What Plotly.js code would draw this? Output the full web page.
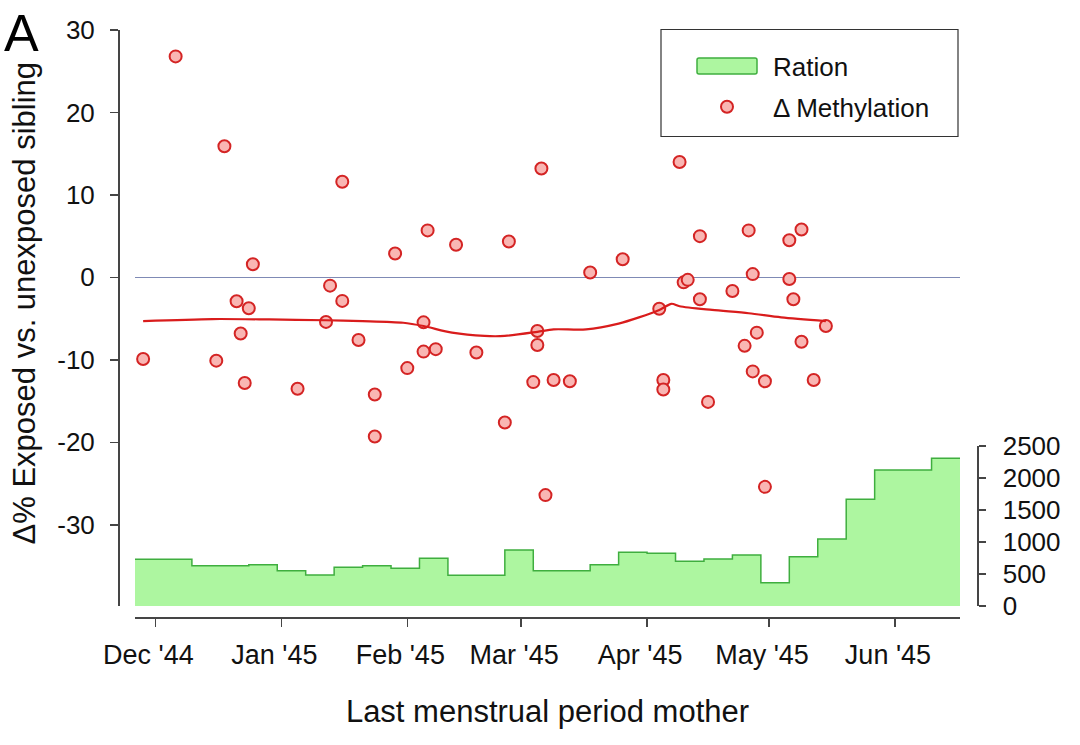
<!DOCTYPE html>
<html><head><meta charset="utf-8">
<script src="https://cdn.plot.ly/plotly-3.0.1.min.js"></script>
<style>html,body{margin:0;padding:0;background:#fff}#chart{width:1080px;height:745px}</style>
</head><body><div id="chart"></div>
<script>
// ---- data ----
const methDates = ['1944-11-28','1944-12-06','1944-12-16','1944-12-18','1944-12-21','1944-12-22','1944-12-23','1944-12-24','1944-12-25',
  '1945-01-05','1945-01-12','1945-01-13','1945-01-16','1945-01-16','1945-01-20','1945-01-24','1945-01-24','1945-01-29',
  '1945-02-01','1945-02-05','1945-02-05','1945-02-06','1945-02-08','1945-02-13','1945-02-18','1945-02-25','1945-02-26',
  '1945-03-04','1945-03-05','1945-03-05','1945-03-06','1945-03-07','1945-03-09','1945-03-13','1945-03-18','1945-03-26',
  '1945-04-04','1945-04-05','1945-04-05','1945-04-09','1945-04-10','1945-04-11','1945-04-14','1945-04-14','1945-04-16',
  '1945-04-22','1945-04-25','1945-04-26','1945-04-27','1945-04-27','1945-04-28','1945-04-30','1945-04-30',
  '1945-05-06','1945-05-06','1945-05-07','1945-05-09','1945-05-09','1945-05-12','1945-05-15'];
const methValues = [-9.9,26.8,-10.1,15.9,-2.9,-6.8,-12.8,-3.75,1.6,
  -13.5,-5.4,-1.0,-2.85,11.6,-7.6,-14.2,-19.3,2.9,
  -11.0,-5.45,-9.0,5.7,-8.7,3.95,-9.1,-17.6,4.35,
  -12.7,-6.5,-8.2,13.2,-26.4,-12.45,-12.6,0.6,2.2,
  -3.8,-12.45,-13.6,14.0,-0.6,-0.3,-2.65,5.0,-15.1,
  -1.65,-8.3,5.7,0.4,-11.4,-6.7,-12.6,-25.4,
  4.5,-0.2,-2.65,5.8,-7.8,-12.45,-5.9];

const trendDates = ['1944-11-28','1944-12-15','1944-12-29','1945-01-12','1945-01-21','1945-01-31','1945-02-05','1945-02-12',
  '1945-02-20','1945-02-25','1945-03-05','1945-03-09','1945-03-17','1945-03-25','1945-03-30','1945-04-04','1945-04-07',
  '1945-04-09','1945-04-17','1945-04-26','1945-05-04','1945-05-15'];
const trendValues = [-5.3,-5.05,-5.1,-5.2,-5.3,-5.5,-5.9,-6.7,-7.1,-7.1,-6.6,-6.3,-6.3,-5.6,-4.85,-3.95,-3.2,-3.5,-3.95,-4.35,-4.85,-5.3];

const rationWeeks = ['1944-11-26','1944-12-03','1944-12-10','1944-12-17','1944-12-24','1944-12-31','1945-01-07','1945-01-14',
  '1945-01-21','1945-01-28','1945-02-04','1945-02-11','1945-02-18','1945-02-25','1945-03-04','1945-03-11','1945-03-18',
  '1945-03-25','1945-04-01','1945-04-08','1945-04-15','1945-04-22','1945-04-29','1945-05-06','1945-05-13','1945-05-20',
  '1945-05-27','1945-06-03','1945-06-10','1945-06-17'];
const rationKcal = [730,730,630,630,645,552,484,605,630,590,745,480,480,875,552,552,645,839,823,700,734,797,365,771,1047,1667,2125,2125,2308,2308];

const monthTicks = ['1944-12-01','1945-01-01','1945-02-01','1945-03-01','1945-04-01','1945-05-01','1945-06-01'];
const monthLabels = ["Dec '44","Jan '45","Feb '45","Mar '45","Apr '45","May '45","Jun '45"];
const leftTicks = [-30,-20,-10,0,10,20,30];
const leftLabels = ['-30','-20','-10','0','10','20','30'];
const rightTicks = [0,500,1000,1500,2000,2500];
const rightLabels = ['0','500','1000','1500','2000','2500'];

// ---- layout geometry ----
const FONT = 'Liberation Sans, Arial, sans-serif';
const ML = 118, MR = 103, MT = 30, MB = 128;
const PW = 1080 - ML - MR, PH = 745 - MT - MB;
const px2x = p => (p - ML) / PW;
const px2y = p => (745 - MB - p) / PH;
const AX = '#454545';

const traces = [
  {x: rationWeeks, y: rationKcal, xaxis: 'x', yaxis: 'y2', type: 'scatter', mode: 'lines',
   line: {shape: 'hv', color: '#3fae3f', width: 1.5}, fill: 'tozeroy', fillcolor: '#adf6a0',
   name: 'Ration', legendgroup: 'a', hoverinfo: 'skip'},
  {x: methDates, y: methValues, type: 'scatter', mode: 'markers', name: '\u0394 Methylation', legendgroup: 'b',
   marker: {size: 12, color: '#f9b6b3', line: {color: '#d42424', width: 2}}},
  {x: trendDates, y: trendValues, type: 'scatter', mode: 'lines', showlegend: false,
   line: {color: '#d91c1c', width: 2.2, shape: 'spline', smoothing: 0.8}}
];

const layout = {
  width: 1080, height: 745,
  margin: {l: ML, r: MR, t: MT, b: MB, pad: 0},
  paper_bgcolor: '#ffffff', plot_bgcolor: 'rgba(0,0,0,0)',
  font: {family: FONT, size: 26, color: '#111'},
  showlegend: true,
  legend: {x: px2x(681), xanchor: 'left', y: px2y(42.5), yanchor: 'top', bgcolor: 'rgba(0,0,0,0)',
    borderwidth: 0, font: {family: FONT, size: 26, color: '#111'}, itemwidth: 82,
    traceorder: 'grouped', tracegroupgap: 4},
  xaxis: {type: 'date', range: ['1944-11-26', '1945-06-17'], domain: [px2x(135), px2x(960)],
    anchor: 'free', position: 0, showline: true, linecolor: AX, linewidth: 1.5,
    ticks: 'outside', ticklen: 8, tickwidth: 1.5, tickcolor: AX,
    tickvals: monthTicks, ticktext: monthLabels, tickfont: {size: 27}, ticklabelstandoff: 5, ticklabelshift: -7,
    showgrid: false, zeroline: false,
    title: {text: 'Last menstrual period mother', font: {size: 31}, standoff: 31}},
  yaxis: {range: [-39.85, 30], domain: [px2y(606), 1], anchor: 'free', position: 0,
    showline: true, linecolor: AX, linewidth: 1.5, ticks: 'outside', ticklen: 8, tickwidth: 1.5, tickcolor: AX,
    tickvals: leftTicks, ticktext: leftLabels, tickfont: {size: 26}, ticklabelstandoff: 10,
    showgrid: false, zeroline: true, zerolinecolor: '#7f8ab5', zerolinewidth: 1.5},
  yaxis2: {range: [0, 2500], domain: [px2y(606), px2y(446)], anchor: 'free', position: 1, side: 'right',
    showline: true, linecolor: AX, linewidth: 1.5, ticks: 'outside', ticklen: 7, tickwidth: 1.5, tickcolor: AX,
    tickvals: rightTicks, ticktext: rightLabels, tickfont: {size: 26}, ticklabelstandoff: 12,
    showgrid: false, zeroline: false},
  shapes: [
    {type: 'rect', xref: 'paper', yref: 'paper', x0: px2x(661), x1: px2x(958), y0: px2y(29.5), y1: px2y(136.5),
     line: {color: '#333', width: 1.2}, fillcolor: 'rgba(0,0,0,0)'}
  ],
  annotations: [
    {text: 'A', xref: 'paper', yref: 'paper', x: px2x(21.5), y: px2y(33), xanchor: 'center', yanchor: 'middle',
     showarrow: false, font: {family: FONT, size: 52, color: '#000'}},
    {text: '\u0394% Exposed vs. unexposed sibling', xref: 'paper', yref: 'paper', x: px2x(24), y: px2y(303.5),
     xanchor: 'center', yanchor: 'middle', textangle: -90, showarrow: false, font: {family: FONT, size: 31, color: '#111'}}
  ]
};

Plotly.newPlot('chart', traces, layout, {displayModeBar: false, staticPlot: true}).then(gd => {
  // draw the Ration legend key as a rounded swatch, like the original figure
  const rr = 'M18,-8h56a2,2 0 0 1 2,2v12a2,2 0 0 1 -2,2h-56a2,2 0 0 1 -2,-2v-12a2,2 0 0 1 2,-2z';
  gd.querySelectorAll('.legend .legendfill path').forEach(p => p.setAttribute('d', rr));
  gd.querySelectorAll('.legend .legendlines path').forEach(p => { p.setAttribute('d', rr); p.style.fill = 'none'; });
});
</script></body></html>
